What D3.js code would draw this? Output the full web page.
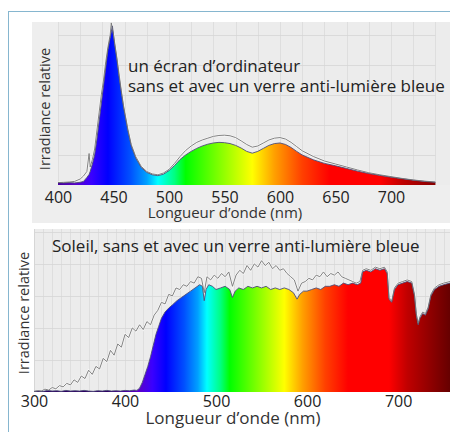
<!DOCTYPE html>
<html><head><meta charset="utf-8">
<script src="https://cdn.jsdelivr.net/npm/d3@7"></script>
<style>
html,body{margin:0;padding:0;background:#fff;}
svg{display:block;font-family:"Open Sans",sans-serif;}
</style></head>
<body>
<svg id="c" width="450" height="432"></svg>
<script>
// ---------- DATA ----------
// Top chart: computer screen spectrum
const screenWl = [400,405,410,415,420,423,426,428,429,431,433,435,437,439,441,443,445,447,448,449,450,451,453,455,457,459,461,463,466,470,475,480,485,490,495,500,505,510,515,520,525,530,535,540,545,550,555,560,565,570,575,580,585,590,595,600,605,610,615,620,630,640,650,660,670,680,690,700,710,720,730,740];
const screenAvec = [0.08,0.07,0.08,0.07,0.09,0.12,0.25,0.35,0.45,0.7,1.0,1.5,2.1,2.7,3.3,3.9,4.5,4.9,5.1,5.3,5.0,4.7,4.2,3.6,3.1,2.6,2.2,1.8,1.3,0.9,0.58,0.42,0.34,0.31,0.36,0.48,0.65,0.85,1.0,1.12,1.22,1.3,1.36,1.4,1.42,1.41,1.38,1.32,1.23,1.12,1.06,1.12,1.22,1.32,1.38,1.4,1.35,1.25,1.12,1.0,0.84,0.72,0.64,0.55,0.46,0.38,0.32,0.26,0.21,0.16,0.12,0.09];
const screenSans = [0.08,0.09,0.1,0.12,0.2,0.3,0.45,1.05,0.6,0.85,1.2,1.8,2.4,3.0,3.5,4.1,4.6,5.0,5.4,5.2,5.0,4.75,4.25,3.7,3.15,2.65,2.25,1.85,1.35,0.95,0.62,0.45,0.37,0.34,0.4,0.52,0.72,0.95,1.15,1.3,1.42,1.5,1.56,1.62,1.65,1.66,1.64,1.58,1.47,1.35,1.26,1.3,1.4,1.5,1.56,1.58,1.53,1.42,1.28,1.14,0.95,0.8,0.7,0.6,0.5,0.41,0.34,0.28,0.22,0.17,0.13,0.1];
const screenTicks = [400,450,500,550,600,650,700];

// Bottom chart: sunlight spectrum, with filter (avec)
const sunWl = [300,305,310,315,320,325,330,335,340,345,350,355,360,365,370,375,380,385,390,395,400,405,410,413,416,419,422,425,428,431,434,437,440,444,448,452,457,462,467,472,477,482,485,487,489,492,496,500,505,510,515,518,521,525,530,535,540,545,550,555,560,565,570,575,580,585,589,592,596,600,605,610,615,620,625,630,635,640,645,650,655,659,661,665,670,675,680,685,688,690,693,696,700,705,710,715,718,720,722,724,727,730,733,736,740,745,750,757];
const sunAvec = [0.02,0.03,0.02,0.05,0.03,0.04,0.02,0.05,0.03,0.04,0.03,0.05,0.03,0.02,0.04,0.03,0.05,0.03,0.04,0.03,0.05,0.04,0.06,0.05,0.12,0.3,0.55,0.8,1.1,1.45,1.8,2.05,2.3,2.5,2.62,2.72,2.85,2.95,3.05,3.15,3.25,3.35,3.3,2.85,3.2,3.35,3.3,3.2,3.25,3.3,3.2,2.95,3.15,3.25,3.2,3.3,3.25,3.3,3.25,3.3,3.2,3.25,3.2,3.25,3.2,3.1,2.9,3.05,3.15,3.15,3.2,3.25,3.2,3.3,3.3,3.35,3.3,3.4,3.35,3.4,3.35,3.4,3.75,3.8,3.75,3.85,3.8,3.85,3.7,2.9,2.8,3.2,3.35,3.4,3.45,3.4,3.0,2.4,2.1,2.3,2.45,2.4,2.6,3.0,3.2,3.3,3.35,3.4];
// Bottom chart: sunlight spectrum, without filter (sans)
const sunSansWl = [300,304,308,312,316,320,324,328,332,336,340,344,348,352,356,360,364,368,372,376,380,384,388,392,396,400,404,408,412,416,420,424,428,432,436,440,444,448,452,456,460,464,468,472,476,480,484,487,490,494,498,502,506,510,514,518,522,526,530,534,538,542,546,550,554,558,562,566,570,574,578,582,586,590,594,598,602,606,610,614,618,622,626,630,634,638,642,646,650,654,658,661,665,670,675,680,685,688,690,693,696,700,705,710,715,718,720,722,724,727,730,733,736,740,745,750,757];
const sunSans = [0.02,0.04,0.03,0.09,0.06,0.14,0.1,0.2,0.16,0.27,0.22,0.38,0.3,0.5,0.42,0.68,0.55,0.8,0.72,1.05,0.95,1.3,1.15,1.5,1.4,1.8,1.7,2.0,1.9,2.1,1.95,2.2,2.1,2.4,2.55,2.8,2.75,3.05,3.0,3.25,3.2,3.35,3.3,3.45,3.4,3.6,3.55,3.1,3.6,3.5,3.65,3.55,3.7,3.6,3.75,3.3,3.65,3.8,3.7,3.95,3.8,4.0,3.9,4.1,3.95,4.05,3.85,3.95,3.8,3.85,3.7,3.6,3.5,3.15,3.4,3.45,3.55,3.5,3.65,3.6,3.75,3.6,3.7,3.65,3.75,3.6,3.55,3.5,3.45,3.4,3.45,3.8,3.85,3.8,3.9,3.85,3.9,3.75,2.95,2.85,3.25,3.4,3.45,3.5,3.45,3.05,2.45,2.15,2.35,2.5,2.45,2.65,3.05,3.25,3.35,3.4,3.45];
const sunTicks = [300,400,500,600,700];

const xTitle = "Longueur d\u2019onde (nm)";
const yTitle = "Irradiance relative";
const topNote = ["un écran d\u2019ordinateur","sans et avec un verre anti-lumière bleue"];
const bottomNote = "Soleil, sans et avec un verre anti-lumière bleue";

// spectral colour stops (wavelength -> colour)
const specWl = [380,415,430,445,465,480,490,505,515,545,575,595,620,645,690,710,760];
const specCol = ["#2a0060","#5a00c8","#3a00ff","#0000ff","#0050ff","#00a0ff","#00ffff","#00ff80","#00ff00","#80ff00","#ffff00","#ffa000","#ff4000","#ff0000","#ff0000","#c00000","#600000"];

// ---------- DRAW ----------
const svg = d3.select("#c");
const defs = svg.append("defs");

svg.append("line").attr("x1",8.5).attr("x2",8.5).attr("y1",11).attr("y2",432).attr("stroke","#86b6cf").attr("stroke-width",1);
svg.append("line").attr("x1",8).attr("x2",450).attr("y1",11.5).attr("y2",11.5).attr("stroke","#86b6cf").attr("stroke-width",1);

function panel(o){
  const g = svg.append("g");
  const x = d3.scaleLinear().domain(o.xDomain).range(o.xRange);
  const y = d3.scaleLinear().domain(o.yDomain).range(o.yRange);
  if (o.outerBg) g.append("rect").attr("x",o.outerBg[0]).attr("y",o.outerBg[1]).attr("width",o.outerBg[2]).attr("height",o.outerBg[3]).attr("fill","#eeeeee");
  g.append("rect").attr("x",o.xRange[0]).attr("y",o.yRange[1]).attr("width",o.plotW).attr("height",o.yRange[0]-o.yRange[1]).attr("fill","#ececec");
  if (o.leftLine) g.append("line").attr("x1",o.xRange[0]+0.5).attr("x2",o.xRange[0]+0.5).attr("y1",o.yRange[1]).attr("y2",o.yRange[0]).attr("stroke","#c4c4c4");
  const gx = d3.range(o.xDomain[0], o.gridEnd+0.1, o.gridStep);
  g.append("g").selectAll("line").data(gx).join("line")
    .attr("x1",d=>Math.round(x(d))+0.5).attr("x2",d=>Math.round(x(d))+0.5)
    .attr("y1",o.yRange[1]).attr("y2",o.yRange[0]).attr("stroke","#dadada").attr("stroke-width",0.8);
  const gy = d3.range(1, o.yDomain[1], 1);
  g.append("g").selectAll("line").data(gy).join("line")
    .attr("x1",o.xRange[0]).attr("x2",x(o.gridEnd))
    .attr("y1",d=>Math.round(y(d))+0.5).attr("y2",d=>Math.round(y(d))+0.5).attr("stroke","#d6d6d6").attr("stroke-width",0.8);
  const gid = "grad"+o.id;
  const lg = defs.append("linearGradient").attr("id",gid).attr("gradientUnits","userSpaceOnUse")
    .attr("x1",x(specWl[0])).attr("x2",x(specWl[specWl.length-1])).attr("y1",0).attr("y2",0);
  const span = specWl[specWl.length-1]-specWl[0];
  lg.selectAll("stop").data(specWl).join("stop")
    .attr("offset",d=>(d-specWl[0])/span).attr("stop-color",(d,i)=>specCol[i]);
  const dAvec = o.wl.map((w,i)=>[w,o.avec[i]]);
  const dSans = o.sansWl.map((w,i)=>[w,o.sans[i]]);
  const area = d3.area().x(d=>x(d[0])).y0(y(0)).y1(d=>y(d[1]));
  const line = d3.line().x(d=>x(d[0])).y(d=>y(d[1]));
  g.append("path").attr("d",line(dSans)).attr("fill","none").attr("stroke","#ffffff").attr("stroke-width",2).attr("opacity",0.7);
  g.append("path").attr("d",area(dAvec)).attr("fill","url(#"+gid+")");
  g.append("path").attr("d",line(dAvec)).attr("fill","none").attr("stroke","#4d4d78").attr("stroke-width",0.9);
  g.append("path").attr("d",line(dSans)).attr("fill","none").attr("stroke","#747474").attr("stroke-width",0.9);
  const ax = d3.axisBottom(x).tickValues(o.ticks).tickSize(0).tickPadding(0).tickFormat(d3.format("d"));
  const axg = g.append("g").attr("transform",`translate(0,${o.tickY})`).call(ax);
  axg.select(".domain").remove();
  axg.selectAll("text").attr("font-size",o.tickFs).attr("fill","#222").attr("dy",0).attr("y",0).attr("font-family","Open Sans, sans-serif");
  g.append("text").attr("x",o.xtX).attr("y",o.xtY).attr("text-anchor","middle").attr("font-size",o.xtFs).attr("fill","#333").text(xTitle);
  g.append("text").attr("transform",`translate(${o.ytX},${o.ytY}) rotate(-90)`).attr("text-anchor","middle").attr("font-size",o.ytFs).attr("fill","#333").text(yTitle);
  return {g,x,y};
}

const panelTop = panel({id:"t", xDomain:[400,740], xRange:[58,435.4], yDomain:[0,5.43], yRange:[185,22], plotW:392,
  outerBg:[32,22,418,201], gridStep:20, gridEnd:740, wl:screenWl, avec:screenAvec, sansWl:screenWl, sans:screenSans, ticks:screenTicks,
  tickY:203, tickFs:16, xtX:225, xtY:218, xtFs:15, ytX:50, ytY:109, ytFs:14.5, leftLine:false});
panelTop.g.selectAll("text.note").data(topNote).join("text").attr("class","note")
  .attr("x",128).attr("y",(d,i)=>72+i*20).attr("font-size",17).attr("fill","#222").text(d=>d);

const panelBot = panel({id:"b", xDomain:[300,757], xRange:[34,450], yDomain:[0,5.09], yRange:[392,229], plotW:416,
  outerBg:null, gridStep:10, gridEnd:757, wl:sunWl, avec:sunAvec, sansWl:sunSansWl, sans:sunSans, ticks:sunTicks,
  tickY:407, tickFs:16, xtX:233, xtY:424, xtFs:17, ytX:29, ytY:313, ytFs:14.5, leftLine:true});
panelBot.g.append("text").attr("x",52).attr("y",252).attr("font-size",17).attr("fill","#222").text(bottomNote);
</script>
</body></html>
